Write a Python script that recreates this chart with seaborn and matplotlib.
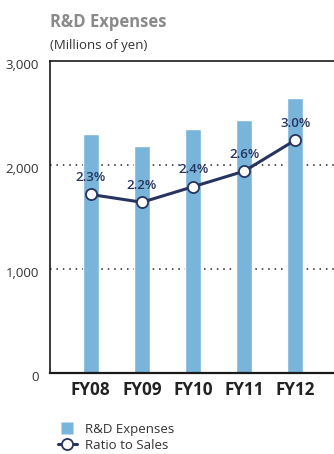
import matplotlib
matplotlib.use("Agg")
import matplotlib.pyplot as plt
import matplotlib.transforms as mtransforms
from matplotlib.lines import Line2D
import seaborn as sns
import pandas as pd

# Data
years = ["FY08", "FY09", "FY10", "FY11", "FY12"]
rd_expenses = [2300, 2180, 2350, 2430, 2640]      # millions of yen
ratio_to_sales = [2.3, 2.2, 2.4, 2.6, 3.0]          # percent
y_ticks = [0, 1000, 2000, 3000]
y_tick_labels = ["0", "1,000", "2,000", "3,000"]

df = pd.DataFrame({"year": years, "rd": rd_expenses, "ratio": ratio_to_sales})

sns.set_theme(style="white")
plt.rcParams["font.family"] = ["Open Sans", "DejaVu Sans"]

BAR_COLOR = "#79b5da"
NAVY = "#27345f"
TEXT = "#333333"

W, H = 334, 454
fig = plt.figure(figsize=(W / 100, H / 100), dpi=100)
ax = fig.add_axes([50 / W, 81 / H, 284 / W, 312 / H])

sns.barplot(data=df, x="year", y="rd", order=years, color=BAR_COLOR,
            width=0.31, saturation=1, ax=ax, zorder=2)

ax.set_ylim(0, 3000)
ax.set_xlim(-0.8, 4.76)
ax.set_yticks(y_ticks)
ax.set_yticklabels(y_tick_labels)
ax.set_xlabel("")
ax.set_ylabel("")
ax.set_axisbelow(True)
for v in (1000, 2000):
    ax.axhline(v, color="#222222", linestyle=(0, (1, 3.2)), linewidth=1.1, zorder=0)

for side in ("left", "top", "bottom"):
    ax.spines[side].set_visible(True)
    ax.spines[side].set_color("#1a1a1a")
    ax.spines[side].set_linewidth(1.2)
ax.spines["bottom"].set_linewidth(1.6)
ax.spines["right"].set_visible(False)

ax.tick_params(axis="y", length=0, pad=8, labelsize=9.5, labelcolor=TEXT)
ax.tick_params(axis="x", length=0, pad=6, labelsize=12.3, labelcolor="#222222")
for lbl in ax.get_xticklabels():
    lbl.set_fontweight("bold")
shift = mtransforms.ScaledTranslation(0, -3 / 100, fig.dpi_scale_trans)
for lbl in ax.get_yticklabels():
    lbl.set_transform(lbl.get_transform() + shift)

# Ratio to sales on a hidden secondary scale
ax2 = ax.twinx()
sns.pointplot(data=df, x="year", y="ratio", order=years, color=NAVY,
              errorbar=None, markers="o", linestyles="-", ax=ax2,
              markersize=8, linewidth=2.2,
              markerfacecolor="white", markeredgecolor=NAVY,
              markeredgewidth=1.3)
ax2.set_ylim(0, 4.02)
ax2.set_xlim(-0.8, 4.76)
ax2.set_ylabel("")
ax2.set_xlabel("")
ax2.set_yticks([])
for s in ax2.spines.values():
    s.set_visible(False)

for i, r in enumerate(ratio_to_sales):
    ax2.annotate(f"{r:.1f}%", (i, r), xytext=(0, 7.5), textcoords="offset points",
                 ha="center", va="bottom", fontsize=9.5, color=NAVY,
                 fontweight="semibold", zorder=5)

# Titles
fig.text(50 / W, 1 - 22 / H, "R&D Expenses", fontsize=12, fontweight="bold",
         color="#8a8a8a", ha="left", va="center")
fig.text(50 / W, 1 - 45 / H, "(Millions of yen)", fontsize=9.5,
         color=TEXT, ha="left", va="center")

# Legend
handles = [
    Line2D([0], [0], linestyle="none", marker="s", markersize=8.8,
           markerfacecolor=BAR_COLOR, markeredgecolor="none"),
    Line2D([0], [0], color=NAVY, linewidth=2.2, marker="o", markersize=8,
           markerfacecolor="white", markeredgecolor=NAVY, markeredgewidth=1.3),
]
fig.legend(handles, ["R&D Expenses", "Ratio to Sales"], loc="upper left",
           bbox_to_anchor=(51 / W, 1 - 416 / H), frameon=False,
           fontsize=9.5, labelcolor=TEXT, handlelength=1.5, handleheight=1.0,
           handletextpad=0.6, labelspacing=0.2, borderpad=0)

fig.savefig("out.png", dpi=100)
